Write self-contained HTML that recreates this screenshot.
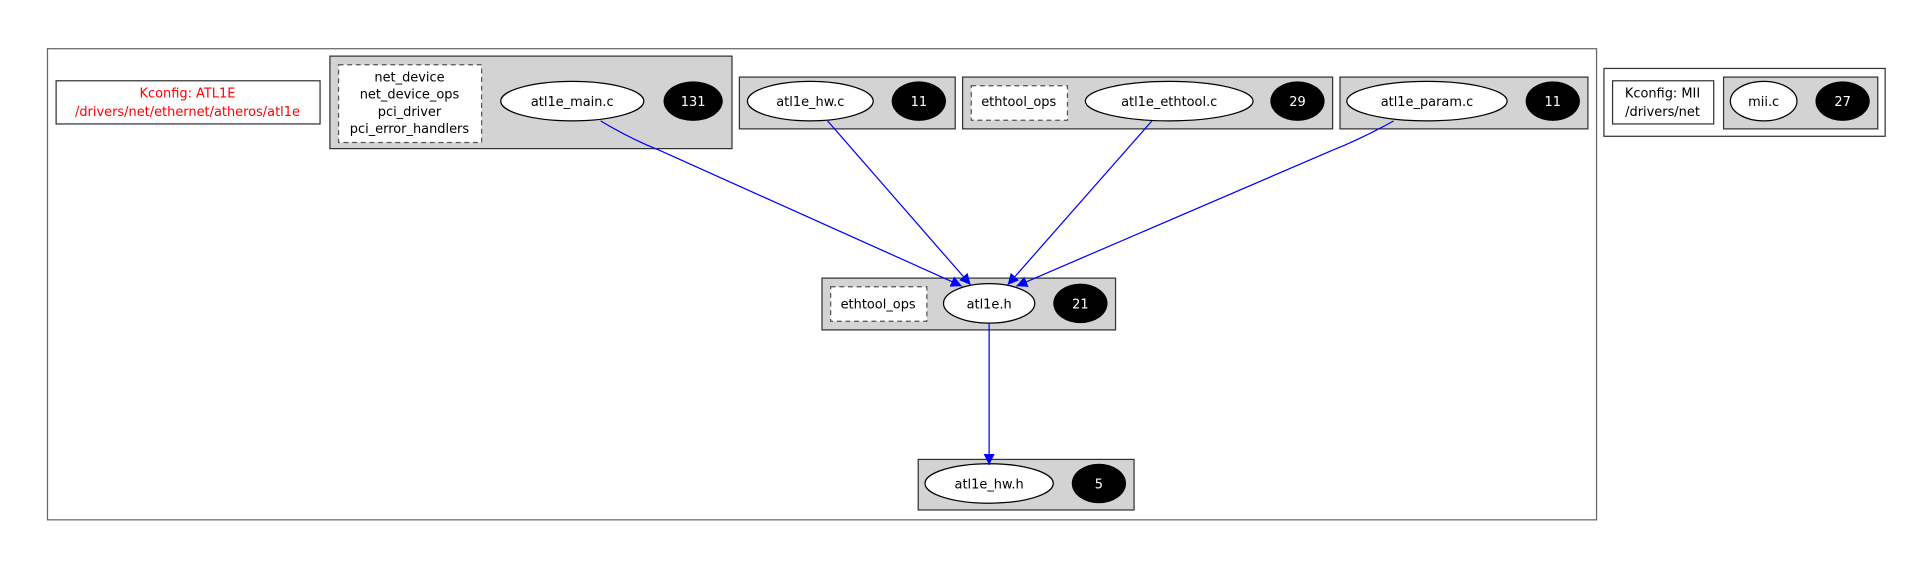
<!DOCTYPE html>
<html><head><meta charset="utf-8"><style>html,body{margin:0;padding:0;background:#fff}svg{display:block}</style></head>
<body>
<svg width="1924" height="564" viewBox="0 0 1560 457.3" xmlns="http://www.w3.org/2000/svg" font-family="'DejaVu Sans','Liberation Sans',sans-serif" font-size="10.5" text-anchor="middle">
<defs><marker id="a" viewBox="0 0 10 10" refX="10" refY="5" markerWidth="9" markerHeight="9" orient="auto" markerUnits="userSpaceOnUse"><path d="M0,0L10,5L0,10z" fill="#0000ff"/></marker></defs>
<rect x="38.5" y="39.5" width="1256" height="382" fill="#fff" stroke="#666"/>
<rect x="45.5" y="65.5" width="214" height="35" fill="#fff" stroke="#333"/>
<text x="152" y="79" fill="#ff0000">Kconfig: ATL1E</text>
<text x="152" y="94" fill="#ff0000">/drivers/net/ethernet/atheros/atl1e</text>

<rect x="267.5" y="45.5" width="326" height="75" fill="#d3d3d3" stroke="#333"/>
<rect x="274.5" y="52.5" width="116" height="63" fill="#fff" stroke="#555" stroke-dasharray="4,3"/>
<text x="332" y="66">net_device</text><text x="332" y="80">net_device_ops</text><text x="332" y="94">pci_driver</text><text x="332" y="108">pci_error_handlers</text>
<ellipse cx="464" cy="82" rx="58" ry="16" fill="#fff" stroke="#000"/><text x="464" y="86">atl1e_main.c</text>
<ellipse cx="562" cy="82" rx="24" ry="16" fill="#000"/><text x="562" y="86" fill="#fff">131</text>

<rect x="599.5" y="62.5" width="175" height="42" fill="#d3d3d3" stroke="#333"/>
<ellipse cx="657" cy="82" rx="51" ry="16" fill="#fff" stroke="#000"/><text x="657" y="86">atl1e_hw.c</text>
<ellipse cx="745" cy="82" rx="22" ry="16" fill="#000"/><text x="745" y="86" fill="#fff">11</text>

<rect x="780.5" y="62.5" width="300" height="42" fill="#d3d3d3" stroke="#333"/>
<rect x="787.5" y="69.5" width="78" height="28" fill="#fff" stroke="#555" stroke-dasharray="4,3"/><text x="826" y="86">ethtool_ops</text>
<ellipse cx="948" cy="82" rx="68" ry="16" fill="#fff" stroke="#000"/><text x="948" y="86">atl1e_ethtool.c</text>
<ellipse cx="1052" cy="82" rx="22" ry="16" fill="#000"/><text x="1052" y="86" fill="#fff">29</text>

<rect x="1086.5" y="62.5" width="201" height="42" fill="#d3d3d3" stroke="#333"/>
<ellipse cx="1157" cy="82" rx="65" ry="16" fill="#fff" stroke="#000"/><text x="1157" y="86">atl1e_param.c</text>
<ellipse cx="1259" cy="82" rx="22" ry="16" fill="#000"/><text x="1259" y="86" fill="#fff">11</text>

<rect x="666.5" y="225.5" width="238" height="42" fill="#d3d3d3" stroke="#333"/>
<rect x="673.5" y="232.5" width="78" height="28" fill="#fff" stroke="#555" stroke-dasharray="4,3"/><text x="712" y="250">ethtool_ops</text>
<ellipse cx="802" cy="246" rx="37" ry="16" fill="#fff" stroke="#000"/><text x="802" y="250">atl1e.h</text>
<ellipse cx="876" cy="246" rx="22" ry="16" fill="#000"/><text x="876" y="250" fill="#fff">21</text>

<rect x="744.5" y="372.5" width="175" height="41" fill="#d3d3d3" stroke="#333"/>
<ellipse cx="802" cy="392" rx="52" ry="16" fill="#fff" stroke="#000"/><text x="802" y="396">atl1e_hw.h</text>
<ellipse cx="891" cy="392" rx="22" ry="16" fill="#000"/><text x="891" y="396" fill="#fff">5</text>

<rect x="1300.5" y="55.5" width="228" height="55" fill="#fff" stroke="#333"/>
<rect x="1307.5" y="65.5" width="82" height="35" fill="#fff" stroke="#333"/>
<text x="1348" y="79">Kconfig: MII</text><text x="1348" y="94">/drivers/net</text>
<rect x="1397.5" y="62.5" width="125" height="42" fill="#d3d3d3" stroke="#333"/>
<ellipse cx="1430" cy="82" rx="27" ry="16" fill="#fff" stroke="#000"/><text x="1430" y="86">mii.c</text>
<ellipse cx="1494" cy="82" rx="22" ry="16" fill="#000"/><text x="1494" y="86" fill="#fff">27</text>

<g fill="none" stroke="#0000ff" stroke-width="1">
<path d="M487,98 Q510,112 535,122 L780,232" marker-end="url(#a)"/>
<path d="M671,98 L787,231" marker-end="url(#a)"/>
<path d="M934,98 L817,231" marker-end="url(#a)"/>
<path d="M1130,98 Q1105,112 1080,122 L824,232" marker-end="url(#a)"/>
<path d="M802,262 L802,377" marker-end="url(#a)"/>
</g>
</svg>
</body></html>
